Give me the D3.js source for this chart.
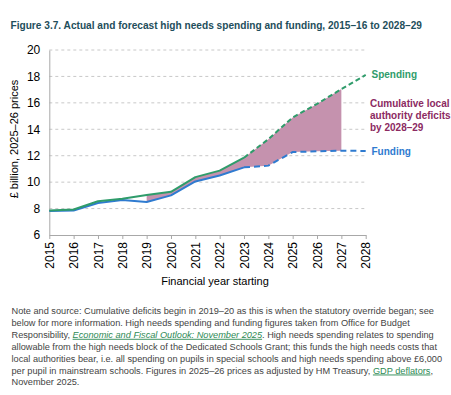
<!DOCTYPE html>
<html><head><meta charset="utf-8">
<script src="https://cdn.jsdelivr.net/npm/d3@7"></script>
<style>
body{margin:0;background:#fff;}
svg{display:block;font-family:"Liberation Sans",Arial,sans-serif;}
</style></head>
<body>
<svg id="c" width="451" height="395"></svg>
<script>
const years = [2015,2016,2017,2018,2019,2020,2021,2022,2023,2024,2025,2026,2027,2028];
const spending = [7.85,7.93,8.55,8.75,9.02,9.27,10.38,10.87,11.85,13.25,14.9,15.92,17.04,18.11];
const funding  = [7.82,7.85,8.42,8.65,8.50,9.00,10.05,10.50,11.12,11.25,12.28,12.33,12.38,12.36];
const yTicks = [6,8,10,12,14,16,18,20];
const forecastStart = 2023;
const deficitStart = 2019, deficitEnd = 2027;
const title = "Figure 3.7. Actual and forecast high needs spending and funding, 2015–16 to 2028–29";
const yTitle = "£ billion, 2025–26 prices";
const xTitle = "Financial year starting";
const labelSpending = "Spending";
const labelFunding = "Funding";
const labelDeficit = ["Cumulative local","authority deficits","by 2028–29"];
const noteLines = [
  [{t:"Note and source: Cumulative deficits begin in 2019–20 as this is when the statutory override began; see"}],
  [{t:"below for more information. High needs spending and funding figures taken from Office for Budget"}],
  [{t:"Responsibility, "},{t:"Economic and Fiscal Outlook: November 2025",link:true,italic:true},{t:". High needs spending relates to spending"}],
  [{t:"allowable from the high needs block of the Dedicated Schools Grant; this funds the high needs costs that"}],
  [{t:"local authorities bear, i.e. all spending on pupils in special schools and high needs spending above £6,000"}],
  [{t:"per pupil in mainstream schools. Figures in 2025–26 prices as adjusted by HM Treasury, "},{t:"GDP deflators",link:true},{t:","}],
  [{t:"November 2025."}]
];

const cGreen="#2f9c6b", cBlue="#2f7bd0", cPink="#c592ae", cPurple="#8c2a62", cTitle="#1e4e5b", cNote="#444", cLink="#2e8a55";

const svg = d3.select("#c");
const x = d3.scaleLinear().domain([2015,2028]).range([49.3,365.7]);
const y = d3.scaleLinear().domain([6,20]).range([235,50]);

// title
const tt = svg.append("text").attr("x",10.5).attr("y",29).attr("fill",cTitle)
  .attr("font-weight","bold").attr("font-size",10.6).text(title);
const tw = tt.node().getComputedTextLength();
tt.attr("font-size", 10.6*412/tw);

// gridlines
svg.append("g").selectAll("line").data(yTicks.filter(d=>d>6)).join("line")
  .attr("x1",x(2015)).attr("x2",x(2028)).attr("y1",d=>y(d)).attr("y2",d=>y(d))
  .attr("stroke","#c8c8c8").attr("stroke-width",1).attr("stroke-dasharray","3,3");

// y axis
const ya = svg.append("g").attr("transform",`translate(${x(2015)},0)`)
  .call(d3.axisLeft(y).tickValues(yTicks).tickSize(0).tickPadding(9));
ya.select(".domain").attr("stroke","#a8a8a8");
ya.selectAll("text").attr("font-size",12).attr("fill","#000").attr("font-family","Liberation Sans, Arial, sans-serif");

// x axis
const xa = svg.append("g").attr("transform",`translate(0,${y(6)})`)
  .call(d3.axisBottom(x).tickValues(years).tickFormat(d3.format("d")).tickSize(4).tickSizeOuter(0));
xa.select(".domain").attr("stroke","#a8a8a8");
xa.selectAll(".tick line").attr("stroke","#a8a8a8");
xa.selectAll("text").attr("font-size",12).attr("fill","#000").attr("font-family","Liberation Sans, Arial, sans-serif")
  .attr("transform","rotate(-90)").attr("text-anchor","end").attr("dy","0.35em").attr("x",-7).attr("y",0);

// axis titles
svg.append("text").attr("transform",`translate(18,139) rotate(-90)`).attr("text-anchor","middle")
  .attr("font-size",11).attr("fill","#000").text(yTitle);
svg.append("text").attr("x",215).attr("y",285).attr("text-anchor","middle")
  .attr("font-size",11).attr("fill","#000").text(xTitle);

// deficit area
const data = years.map((yr,i)=>({yr,s:spending[i],f:funding[i]}));
const areaData = data.filter(d=>d.yr>=deficitStart && d.yr<=deficitEnd);
svg.append("path").datum(areaData)
  .attr("d", d3.area().x(d=>x(d.yr)).y0(d=>y(d.f)).y1(d=>y(d.s)))
  .attr("fill",cPink);

// lines
const line = key => d3.line().x(d=>x(d.yr)).y(d=>y(d[key]));
const actual = data.filter(d=>d.yr<=forecastStart);
const fc = data.filter(d=>d.yr>=forecastStart);
function drawSeries(key,color,dash){
  svg.append("path").datum(actual).attr("d",line(key)).attr("fill","none")
    .attr("stroke",color).attr("stroke-width",2).attr("stroke-linejoin","round");
  svg.append("path").datum(fc).attr("d",line(key)).attr("fill","none")
    .attr("stroke",color).attr("stroke-width",2).attr("stroke-dasharray",dash);
}
drawSeries("f",cBlue,"6,4");
drawSeries("s",cGreen,"5,3");

// labels
svg.append("text").attr("x",371.5).attr("y",78).attr("font-size",10).attr("font-weight","bold").attr("fill",cGreen).text(labelSpending);
svg.append("text").attr("x",371.5).attr("y",154.6).attr("font-size",10).attr("font-weight","bold").attr("fill",cBlue).text(labelFunding);
svg.append("text").attr("font-size",10).attr("font-weight","bold").attr("fill",cPurple)
  .selectAll("tspan").data(labelDeficit).join("tspan")
  .attr("x",370).attr("y",(d,i)=>107+i*11.8).text(d=>d);

// note
const note = svg.append("g").attr("font-size",9).attr("fill",cNote);
const rows = note.selectAll("text").data(noteLines).join("text")
  .attr("x",11.5).attr("y",(d,i)=>314+i*11.9);
rows.each(function(parts){
  const t = d3.select(this);
  parts.forEach(p=>{
    const ts = t.append("tspan").text(p.t);
    if(p.link){ ts.attr("fill",cLink).attr("text-decoration","underline"); }
    if(p.italic){ ts.attr("font-style","italic"); }
  });
});
const w5 = rows.nodes()[4].getComputedTextLength();
note.attr("font-size", 9*431/w5);
</script>
</body></html>
